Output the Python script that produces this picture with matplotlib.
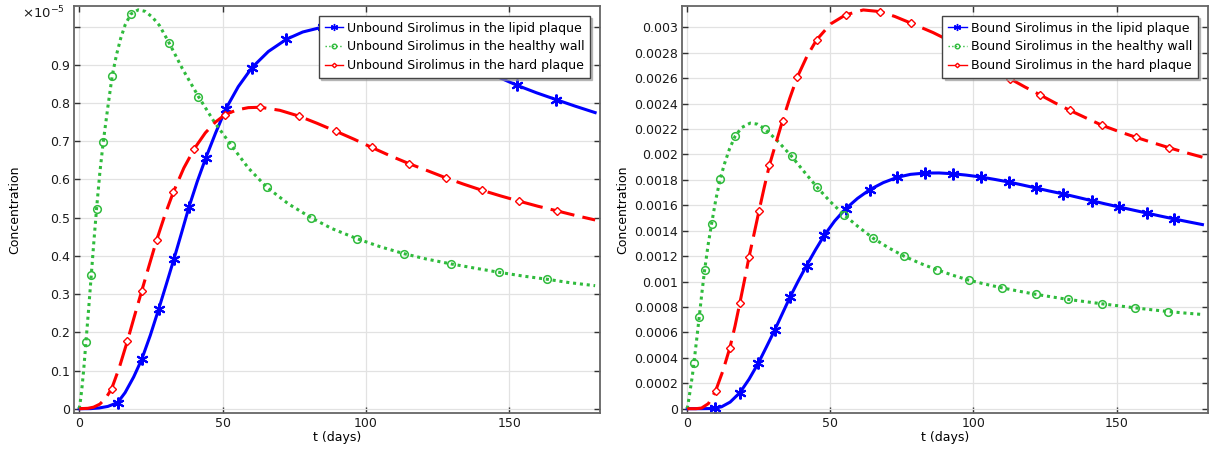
import numpy as np
import matplotlib
matplotlib.use("Agg")
import matplotlib.pyplot as plt
from matplotlib.lines import Line2D

# Unbound sirolimus (units of 1e-5 mol/m^3), time in days
t_unb_lipid = [0, 4, 7, 10, 13.4, 16, 19, 21.8, 24.8, 27.7, 30.4, 33.1, 35.7, 38.3, 41.2, 44.2,
               47.6, 51.1, 55.5, 60.3, 66, 72.3, 78, 85, 92, 98.6, 105, 112, 118.5, 125.6, 132,
               139.3, 147.4, 152.9, 159.5, 166.4, 173, 180]
c_unb_lipid = [0, 0.0002, 0.002, 0.006, 0.016, 0.042, 0.083, 0.129, 0.192, 0.260, 0.326, 0.393,
               0.460, 0.528, 0.595, 0.657, 0.722, 0.784, 0.843, 0.893, 0.935, 0.967, 0.986, 0.999,
               1.003, 1.000, 0.992, 0.977, 0.958, 0.936, 0.916, 0.891, 0.864, 0.846, 0.827, 0.809,
               0.792, 0.775]

t_unb_healthy = [0, 0.5, 1, 1.6, 2.34, 3.3, 4.2, 5.1, 6.06, 7.2, 8.4, 10, 11.5, 13, 14.5, 16, 18,
                 20.6, 23, 25.5, 28, 31.4, 36, 41.6, 47, 53.1, 59, 65.4, 73, 80.9, 88, 96.9, 105,
                 113.2, 121, 129.7, 138, 146.5, 155, 163.1, 171, 180]
c_unb_healthy = [0, 0.025, 0.058, 0.105, 0.174, 0.262, 0.349, 0.436, 0.524, 0.618, 0.699, 0.790,
                 0.871, 0.926, 0.970, 1.004, 1.033, 1.044, 1.040, 1.025, 1.003, 0.957, 0.890,
                 0.817, 0.752, 0.689, 0.630, 0.580, 0.536, 0.500, 0.472, 0.445, 0.424, 0.406,
                 0.392, 0.379, 0.368, 0.357, 0.347, 0.339, 0.330, 0.322]

t_unb_hard = [0, 3, 5, 7.2, 9.3, 11.3, 14, 16.8, 19.3, 21.8, 24.4, 27, 29.9, 32.8, 36.5, 40.2, 44,
              47.5, 51, 55, 59, 63.2, 70, 76.6, 83, 89.6, 96, 102, 108.5, 115.2, 121.5, 128, 134,
              140.4, 147, 153.6, 160, 166.6, 173, 180]
c_unb_hard = [0, 0.001, 0.004, 0.012, 0.028, 0.052, 0.108, 0.177, 0.243, 0.308, 0.375, 0.441,
              0.507, 0.566, 0.630, 0.681, 0.722, 0.750, 0.770, 0.782, 0.788, 0.789, 0.781, 0.766,
              0.747, 0.726, 0.705, 0.684, 0.662, 0.641, 0.623, 0.604, 0.588, 0.572, 0.557, 0.543,
              0.530, 0.518, 0.506, 0.494]

# Bound sirolimus (mol/m^3)
t_b_lipid = [0, 5, 8, 9.7, 12, 15, 18.4, 21.6, 24.9, 27.7, 30.5, 33.2, 35.9, 38.8, 41.7, 44.8,
             47.9, 51.5, 55.3, 59.5, 63.8, 68.5, 73.4, 78, 83.05, 88, 92.7, 97.5, 102.6, 107.5,
             112.3, 117, 121.8, 126.5, 131.4, 136.5, 141.3, 146, 151, 155.8, 160.5, 165.3, 170.2,
             175, 180]
c_b_lipid = [0, 0, 0.000001, 0.000004, 0.000015, 0.000052, 0.000126, 0.000232, 0.000361,
             0.000487, 0.000615, 0.000746, 0.000877, 0.001005, 0.001126, 0.001249, 0.001364,
             0.001476, 0.001571, 0.001654, 0.001723, 0.001778, 0.001820, 0.001843, 0.001853,
             0.001854, 0.001848, 0.001837, 0.001822, 0.001803, 0.001783, 0.001760, 0.001736,
             0.001712, 0.001689, 0.001662, 0.001636, 0.001611, 0.001586, 0.001562, 0.001539,
             0.001515, 0.001492, 0.001470, 0.001448]

t_b_healthy = [0, 0.6, 1.2, 1.8, 2.34, 3.3, 4.2, 5.1, 6.07, 7.3, 8.5, 10, 11.55, 13, 14.8, 16.7,
               19, 22, 24.5, 27, 29.5, 32, 36.5, 40.8, 45.4, 50, 54.7, 59.8, 65, 70.3, 75.8,
               81.4, 87.1, 92.7, 98.4, 104.2, 110.1, 115.9, 121.7, 127.4, 133.2, 139, 144.9,
               150.7, 156.5, 162.3, 168.1, 174, 180]
c_b_healthy = [0, 0.00008, 0.00017, 0.00026, 0.000361, 0.000545, 0.000723, 0.000906, 0.001089,
               0.001289, 0.001453, 0.001646, 0.001809, 0.001925, 0.002045, 0.002141, 0.002211,
               0.002246, 0.002238, 0.002202, 0.002150, 0.002095, 0.001984, 0.001865, 0.001741,
               0.001628, 0.001526, 0.001430, 0.001340, 0.001266, 0.001199, 0.001143, 0.001094,
               0.001050, 0.001011, 0.000979, 0.000950, 0.000924, 0.000900, 0.000879, 0.000859,
               0.000842, 0.000825, 0.000809, 0.000793, 0.000778, 0.000764, 0.000752, 0.000741]

t_b_hard = [0, 3, 5, 7.4, 9.9, 12.5, 14.9, 16.7, 18.4, 20, 21.6, 23.4, 25.1, 26.9, 28.7, 31,
            33.3, 35.8, 38.4, 41.8, 45.2, 50.1, 55.3, 61.5, 67.3, 72.5, 78.2, 85.9, 92, 99, 106,
            112.8, 118, 123.2, 128.5, 133.7, 139.3, 144.8, 150.8, 156.7, 162.5, 168.4, 174, 180]
c_b_hard = [0, 0, 0.000005, 0.00004, 0.000139, 0.0003, 0.000479, 0.00065, 0.000833, 0.00101,
            0.001194, 0.00138, 0.001558, 0.00174, 0.001914, 0.00209, 0.002265, 0.00244,
            0.002605, 0.00277, 0.002901, 0.003026, 0.003097, 0.003136, 0.003123, 0.003085,
            0.003032, 0.002958, 0.00289, 0.002799, 0.002697, 0.002595, 0.00253, 0.002469,
            0.002405, 0.002346, 0.002287, 0.00223, 0.00218, 0.002135, 0.002093, 0.002052,
            0.002015, 0.001978]

unbound_labels = ["Unbound Sirolimus in the lipid plaque",
                  "Unbound Sirolimus in the healthy wall",
                  "Unbound Sirolimus in the hard plaque"]
bound_labels = ["Bound Sirolimus in the lipid plaque",
                "Bound Sirolimus in the healthy wall",
                "Bound Sirolimus in the hard plaque"]

BLUE, GREEN, RED = "#0000ff", "#2fbb3c", "#ff0000"
LW = 2.2
styles = [
    dict(color=BLUE, ls="-", marker=(6, 2, 0), ms=8.5, mew=1.5, mfc=BLUE),
    dict(color=GREEN, ls=(0, (1, 1.25)), marker="o", ms=5.5, mew=1.1, mfc="none"),
    dict(color=RED, ls=(0, (8, 2.7)), marker="D", ms=3.8, mew=1.0, mfc="white"),
]

plt.rcParams["font.family"] = "DejaVu Sans"
plt.rcParams["font.size"] = 9


def marker_slots(ax, t, c, n_div, yshrink=0.7):
    # evenly spaced markers along the curve's arc length (in screen space)
    xy = ax.transData.transform(np.column_stack([t, c]))
    xy[:, 1] *= yshrink
    s = np.concatenate([[0], np.cumsum(np.hypot(np.diff(xy[:, 0]), np.diff(xy[:, 1])))])
    targets = s[-1] * np.arange(1, n_div) / n_div
    return sorted(set(int(np.argmin(np.abs(s - v))) for v in targets))


def style_axes(ax):
    ax.grid(True, color="#e2e2e2", lw=0.9)
    ax.set_axisbelow(True)
    ax.tick_params(direction="in", length=4, width=1, colors="#333333", labelcolor="#1a1a1a",
                   top=True, right=True, labelsize=9, pad=3)
    for sp in ax.spines.values():
        sp.set_color("#666666")
        sp.set_linewidth(1.3)
    ax.set_xlim(-1.8, 181.8)
    ax.set_xticks([0, 50, 100, 150])
    ax.set_xlabel("t (days)", labelpad=1)
    ax.set_ylabel("Concentration")
    ax.yaxis.set_label_coords(-0.101, 0.5)


def draw(ax, series, labels, n_div):
    handles = []
    for (t, c), st, lab in zip(series, styles, labels):
        idx = marker_slots(ax, t, c, n_div)
        ax.plot(t, c, color=st["color"], ls=st["ls"], lw=LW, dash_capstyle="butt",
                marker=st["marker"], ms=st["ms"], mew=st["mew"], mfc=st["mfc"],
                mec=st["color"], markevery=idx)
        handles.append(Line2D([], [], color=st["color"], lw=1,
                              ls=":" if st["color"] == GREEN else "-",
                              marker=st["marker"], ms=st["ms"] * 0.6, mew=1,
                              mfc=st["mfc"], mec=st["color"]))
    ax.legend(handles, labels, loc="upper right", fontsize=9, frameon=True, fancybox=False,
              edgecolor="#444444", framealpha=1, borderaxespad=0.8, borderpad=0.45,
              labelspacing=0.45, handlelength=1.5, handletextpad=0.3,
              shadow={"ox": 1.5, "oy": -1.5, "color": "#999999", "alpha": 0.6})


fig = plt.figure(figsize=(12.1, 4.55), dpi=100)
ax1 = fig.add_axes([0.0612, 0.093, 0.4349, 0.8938])
ax2 = fig.add_axes([0.5637, 0.093, 0.4343, 0.8938])

style_axes(ax1)
ax1.set_ylim(-0.0104, 1.054)
yt1 = np.round(np.arange(0, 1.01, 0.1), 1)
ax1.set_yticks(yt1)
ax1.set_yticklabels(["%g" % v for v in yt1[:-1]] + [""])
ax1.text(-0.018, 0.982, r"$\times\mathregular{10^{-5}}$", transform=ax1.transAxes,
         ha="right", va="center", fontsize=9.5, color="#1a1a1a")
draw(ax1, [(t_unb_lipid, c_unb_lipid), (t_unb_healthy, c_unb_healthy),
           (t_unb_hard, c_unb_hard)], unbound_labels, 17)

style_axes(ax2)
ax2.set_ylim(-0.0000314, 0.003167)
yt2 = np.round(np.arange(0, 0.00301, 0.0002), 4)
ax2.set_yticks(yt2)
ax2.set_yticklabels(["%g" % v for v in yt2])
draw(ax2, [(t_b_lipid, c_b_lipid), (t_b_healthy, c_b_healthy),
           (t_b_hard, c_b_hard)], bound_labels, 21)

fig.savefig("out.png", dpi=100)
